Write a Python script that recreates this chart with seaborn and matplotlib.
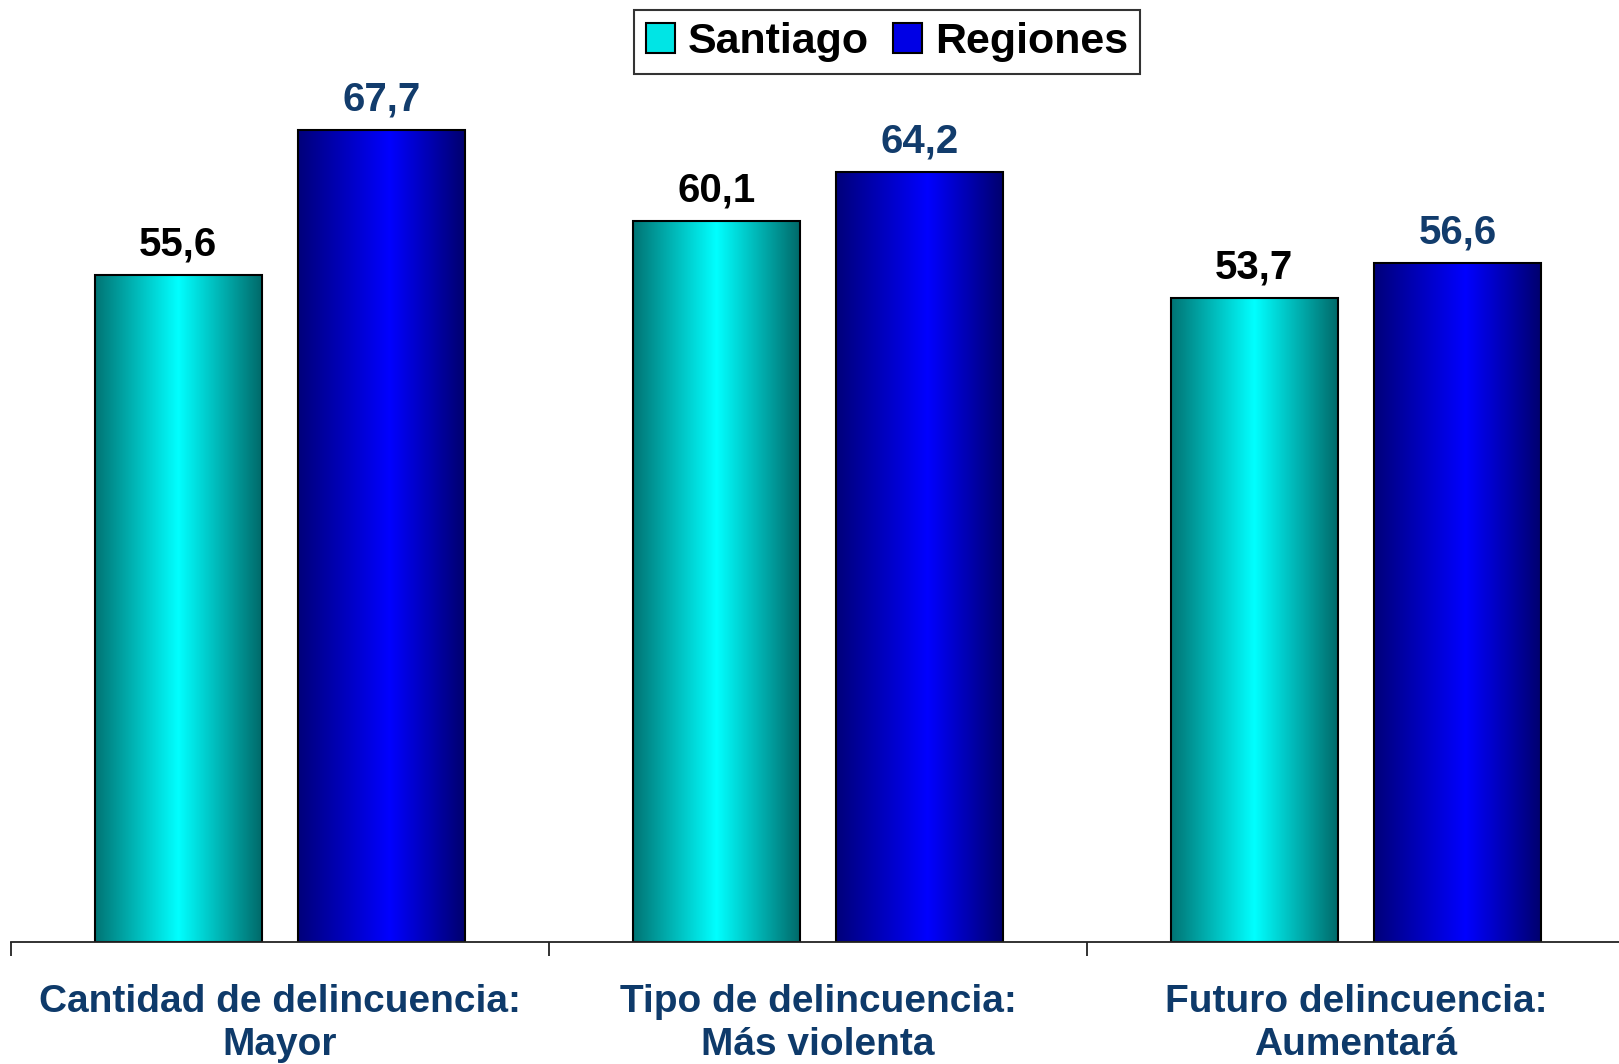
import numpy as np
import pandas as pd
import matplotlib
matplotlib.use("Agg")
import matplotlib.pyplot as plt
import seaborn as sns
from matplotlib.patches import Rectangle
from matplotlib.colors import LinearSegmentedColormap

categories = ["Cantidad de delincuencia:\nMayor", "Tipo de delincuencia:\nMás violenta", "Futuro delincuencia:\nAumentará"]
series = ["Santiago", "Regiones"]
santiago = [55.6, 60.1, 53.7]
regiones = [67.7, 64.2, 56.6]

df = pd.DataFrame({
    "cat": categories * 2,
    "serie": [series[0]] * 3 + [series[1]] * 3,
    "valor": santiago + regiones,
})

sns.set_style("white")
plt.rcParams["font.family"] = ["Liberation Sans", "DejaVu Sans"]
plt.rcParams["text.color"] = "black"

fig = plt.figure(figsize=(16.19, 10.64), dpi=100)
ax = fig.add_axes([11 / 1619, 1 - 942 / 1064, 1614 / 1619, 942 / 1064])

palette = {"Santiago": "#00e0e0", "Regiones": "#0000e0"}
sns.barplot(data=df, x="cat", y="valor", hue="serie", hue_order=series, order=categories,
            palette=palette, width=0.756, gap=0.18, legend=False, ax=ax,
            edgecolor="black", linewidth=1.5, saturation=1)

ax.set_xlim(-0.5, 2.5)
ax.set_ylim(0, 78.5)

grad = {
    "Santiago": LinearSegmentedColormap.from_list("c", [(0, "#007474"), (0.5, "#00ffff"), (1, "#006a6a")]),
    "Regiones": LinearSegmentedColormap.from_list("b", [(0, "#00007a"), (0.55, "#0000ff"), (1, "#00006e")]),
}
g = np.linspace(0, 1, 256).reshape(1, -1)
for cont, s in zip(ax.containers, series):
    for p in cont.patches:
        x0, y0 = p.get_x(), p.get_y()
        w, h = p.get_width(), p.get_height()
        im = ax.imshow(g, cmap=grad[s], extent=(x0, x0 + w, y0, y0 + h), aspect="auto",
                       origin="lower", zorder=1, interpolation="bilinear")
        im.set_clip_path(p)
        p.set_facecolor("none")
        p.set_zorder(2)

label_colors = ["black", "#123c6c"]
for cont, vals, col in zip(ax.containers, [santiago, regiones], label_colors):
    ax.bar_label(cont, labels=[f"{v:.1f}".replace(".", ",") for v in vals], padding=8,
                 fontsize=29, fontweight="bold", color=col, zorder=3)

ax.set_xlim(-0.5, 2.5)
ax.set_ylim(0, 78.5)
ax.set_xlabel("")
ax.set_ylabel("")
ax.set_yticks([])
for sp in ["top", "right", "left"]:
    ax.spines[sp].set_visible(False)
ax.spines["bottom"].set_color("#222222")
ax.spines["bottom"].set_linewidth(1.3)

ax.set_xticks([0, 1, 2])
ax.set_xticklabels(categories, fontsize=28, fontweight="bold", color="#0e3a6a", linespacing=1.25)
ax.tick_params(axis="x", which="major", length=0, pad=30, bottom=True)
ax.set_xticks([-0.5, 0.5, 1.5, 2.5], minor=True)
ax.tick_params(axis="x", which="minor", length=10, width=1.3, color="#222222", direction="out", bottom=True)

handles = [Rectangle((0, 0), 1, 1, facecolor="#00e5e5", edgecolor="black", linewidth=1.5),
           Rectangle((0, 0), 1, 1, facecolor="#0000e5", edgecolor="black", linewidth=1.5)]
leg = fig.legend(handles, series, loc="upper center", bbox_to_anchor=(0.548, 0.9905), ncol=2,
                 frameon=True, fancybox=False, edgecolor="black",
                 prop={"weight": "bold", "size": 31}, handlelength=0.68, handleheight=0.68,
                 handletextpad=0.3, columnspacing=0.55, borderpad=0.28, borderaxespad=0,
                 labelcolor="black")
leg.get_frame().set_linewidth(1.5)

fig.savefig("out.png", dpi=100)
